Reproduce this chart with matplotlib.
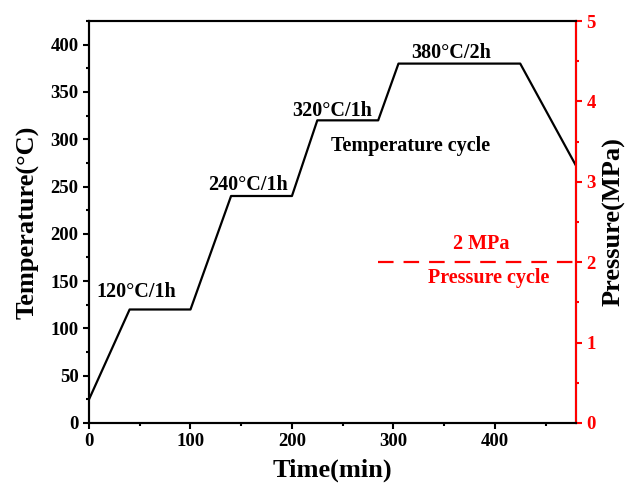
import matplotlib
matplotlib.use('Agg')
import matplotlib.pyplot as plt
from matplotlib.ticker import MultipleLocator

plt.rcParams['font.family'] = ['Liberation Serif', 'DejaVu Serif']
plt.rcParams['font.weight'] = 'bold'

# curva de temperatura (min, °C)
time_min = [0, 40, 100, 140, 200, 225, 285, 305, 425, 480]
temp_c = [25, 120, 120, 240, 240, 320, 320, 380, 380, 272]

# pressão (min, MPa)
press_t = [285, 480]
press_mpa = [2, 2]

# rótulos dos patamares: (texto, x, y)
plateau_labels = [("120°C/1h", 47, 139), ("240°C/1h", 157, 252),
                  ("320°C/1h", 240, 330), ("380°C/2h", 357, 391)]

fig = plt.figure(figsize=(6.27, 4.95), dpi=100)
ax = fig.add_axes([0.142, 0.1455, 0.7767, 0.812])
ax2 = ax.twinx()

ax.plot(time_min, temp_c, color='black', lw=1.6)
ax2.plot(press_t, press_mpa, color='red', lw=1.6, linestyle=(0, (7, 4.5)))

ax.set_xlim(0, 480)
ax.set_ylim(0, 425)
ax2.set_ylim(0, 5)

ax.xaxis.set_major_locator(MultipleLocator(100))
ax.xaxis.set_minor_locator(MultipleLocator(50))
ax.yaxis.set_major_locator(MultipleLocator(50))
ax.yaxis.set_minor_locator(MultipleLocator(25))
ax2.yaxis.set_major_locator(MultipleLocator(1))
ax2.yaxis.set_minor_locator(MultipleLocator(0.5))

for a in (ax, ax2):
    for s in a.spines.values():
        s.set_linewidth(1.5)
ax2.spines['right'].set_color('red')

ax.tick_params(which='major', length=4.5, width=1.5, labelsize=13.5, direction='out', pad=3)
ax.tick_params(which='minor', length=2.5, width=1.5, direction='out')
ax.tick_params(axis='x', which='both', top=False)
ax2.tick_params(which='major', length=4.5, width=1.5, labelsize=13.5, direction='out',
                colors='red', pad=3)
ax2.tick_params(which='minor', length=2.5, width=1.5, direction='out', colors='red')

ax.set_xlabel("Time(min)", fontsize=19, fontweight='bold', labelpad=6)
ax.set_ylabel("Temperature(°C)", fontsize=19, fontweight='bold', labelpad=8)
ax2.set_ylabel("Pressure(MPa)", fontsize=19, fontweight='bold', labelpad=4.5)

for txt, x, y in plateau_labels:
    ax.text(x, y, txt, fontsize=14.5, fontweight='bold', ha='center', va='center')
ax.text(317, 293, "Temperature cycle", fontsize=14.5, fontweight='bold', ha='center', va='center')
ax2.text(387, 2.23, "2 MPa", fontsize=14.5, fontweight='bold', color='red', ha='center', va='center')
ax2.text(394, 1.80, "Pressure cycle", fontsize=14.5, fontweight='bold', color='red', ha='center', va='center')

fig.savefig("out.png", dpi=100)
